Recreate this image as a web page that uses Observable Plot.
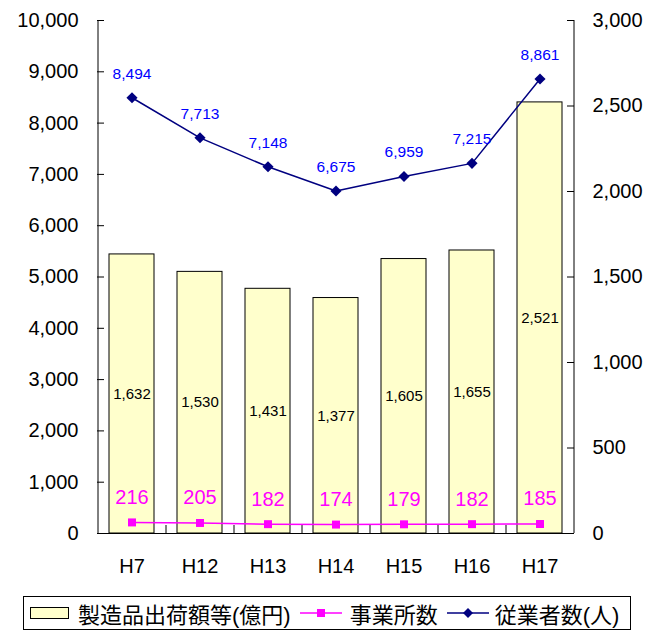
<!DOCTYPE html>
<html><head><meta charset="utf-8">
<script src="https://cdn.jsdelivr.net/npm/d3@7"></script>
<script src="https://cdn.jsdelivr.net/npm/@observablehq/plot@0.6"></script>
<style>
body{margin:0;background:#fff;font-family:"Liberation Sans",Arial,"Noto Sans CJK JP",sans-serif;}
#chart svg{display:block;}
#legend{box-sizing:border-box;margin:6px 0 0 23px;width:608px;height:34px;border:1px solid #000;display:flex;align-items:center;font-size:22px;color:#000;white-space:nowrap;font-family:"Liberation Sans",Arial,"Noto Sans CJK JP",sans-serif;}
#legend .sw{box-sizing:border-box;width:39px;height:12px;border:1px solid #000;background:#ffffcc;margin-left:6px;margin-right:9px;}
#legend svg{display:block;}
</style></head><body>
<div id="chart"></div>
<div id="legend"></div>
<script>
const categories = ["H7","H12","H13","H14","H15","H16","H17"];
const shipments = [1632,1530,1431,1377,1605,1655,2521];      // 製造品出荷額等(億円) – right axis
const establishments = [216,205,182,174,179,182,185];        // 事業所数 – left axis
const employees = [8494,7713,7148,6675,6959,7215,8861];       // 従業者数(人) – left axis
const leftTicks = [0,1000,2000,3000,4000,5000,6000,7000,8000,9000,10000];
const rightTicks = [0,500,1000,1500,2000,2500,3000];
const legendLabels = ["製造品出荷額等(億円)","事業所数","従業者数(人)"];

const leftMax = 10000, rightMax = 3000;
const k = leftMax / rightMax;
const fmt = d3.format(",");

const W = 655, H = 590, mL = 97, mR = 82, mT = 20, mB = 57;
const bw = (W - mL - mR) / categories.length;

const rows = categories.map((c, i) => ({
  cat: c, ship: shipments[i], shipL: shipments[i] * k, est: establishments[i], emp: employees[i]
}));

const font = "Liberation Sans, Arial, sans-serif";

const chart = Plot.plot({
  width: W, height: H,
  marginLeft: mL, marginRight: mR, marginTop: mT, marginBottom: mB,
  style: {fontFamily: font, background: "#fff", color: "#000"},
  x: {domain: categories, paddingInner: 0.34, paddingOuter: 0.17, label: null},
  y: {domain: [0, leftMax], label: null},
  marks: [
    Plot.barY(rows, {x: "cat", y: "shipL", fill: "#ffffcc", stroke: "#000", strokeWidth: 1}),
    Plot.text(rows, {x: "cat", y: d => d.shipL / 2, text: d => fmt(d.ship), fontSize: 15, fill: "#000"}),
    Plot.ruleY([0], {stroke: "#000", strokeWidth: 1}),
    Plot.ruleX([categories[0]], {dx: -bw / 2, stroke: "#000"}),
    Plot.ruleX([categories[categories.length - 1]], {dx: bw / 2, stroke: "#000"}),
    Plot.ruleX(categories.slice(1), {dx: -bw / 2, y1: 0, y2: 0, insetBottom: 8, stroke: "#000"}),
    Plot.axisY({anchor: "left", ticks: leftTicks, tickFormat: d => fmt(d), tickSize: -7, tickPadding: 26, fontSize: 20, label: null}),
    Plot.axisY({anchor: "right", ticks: rightTicks.map(v => v * k), tickFormat: d => fmt(Math.round(d / k)), tickSize: -7, tickPadding: 26, fontSize: 20, label: null}),
    Plot.axisX({tickSize: 0, tickPadding: 25, fontSize: 20, label: null}),
    Plot.line(rows, {x: "cat", y: "est", stroke: "#ff00ff", strokeWidth: 1.5}),
    Plot.dot(rows, {x: "cat", y: "est", symbol: "square", r: 4.5, fill: "#ff00ff", stroke: "none"}),
    Plot.text(rows, {x: "cat", y: "est", text: d => fmt(d.est), dy: -25, fontSize: 20, fill: "#ff00ff"}),
    Plot.line(rows, {x: "cat", y: "emp", stroke: "#000080", strokeWidth: 1.5}),
    Plot.dot(rows, {x: "cat", y: "emp", symbol: "diamond2", r: 5, fill: "#000080", stroke: "none"}),
    Plot.text(rows, {x: "cat", y: "emp", text: d => fmt(d.emp), dy: -24, fontSize: 15.5, fill: "#0000ff"})
  ]
});
document.getElementById("chart").appendChild(chart);

// legend
const lg = document.getElementById("legend");
function lineIcon(color, shape) {
  const s = d3.create("svg").attr("width", 42).attr("height", 14);
  s.append("line").attr("x1", 0).attr("x2", 42).attr("y1", 7).attr("y2", 7).attr("stroke", color).attr("stroke-width", 1.5);
  if (shape === "square") s.append("rect").attr("x", 17).attr("y", 3).attr("width", 8).attr("height", 8).attr("fill", color);
  else s.append("path").attr("d", "M21,2L26,7L21,12L16,7Z").attr("fill", color);
  return s.node();
}
const sw = document.createElement("div"); sw.className = "sw"; lg.appendChild(sw);
const t1 = document.createElement("span"); t1.textContent = legendLabels[0]; t1.style.marginRight = "9px"; lg.appendChild(t1);
const i2 = lineIcon("#ff00ff", "square"); i2.style.marginRight = "8px"; lg.appendChild(i2);
const t2 = document.createElement("span"); t2.textContent = legendLabels[1]; t2.style.marginRight = "9px"; lg.appendChild(t2);
const i3 = lineIcon("#000080", "diamond"); i3.style.marginRight = "6px"; lg.appendChild(i3);
const t3 = document.createElement("span"); t3.textContent = legendLabels[2]; lg.appendChild(t3);
</script>
</body></html>
